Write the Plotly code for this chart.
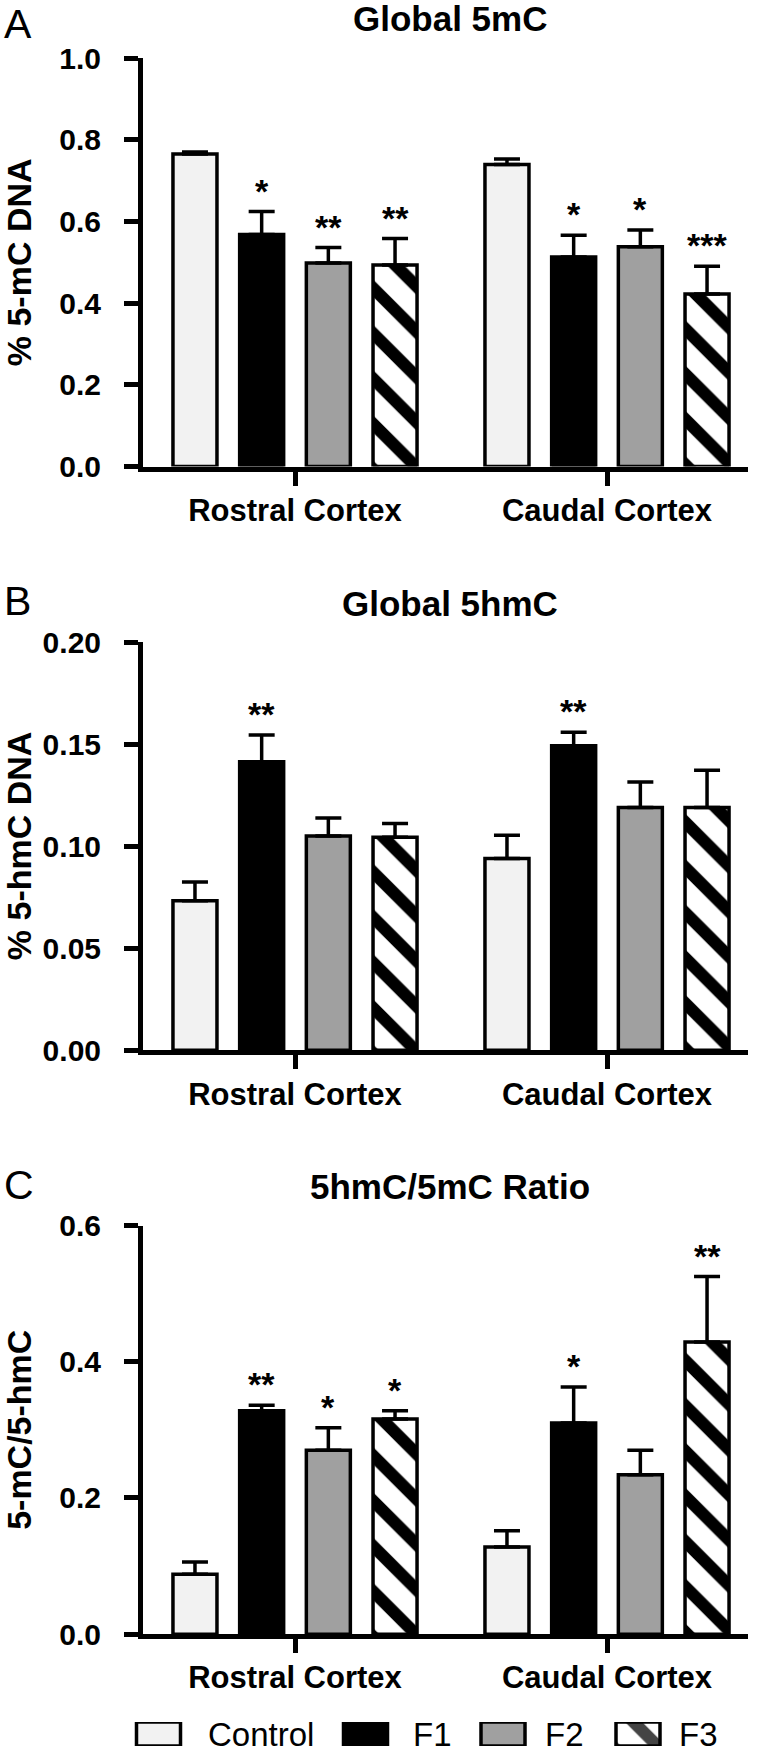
import plotly.graph_objects as go

W, H = 764, 1752

# ---------------- data ----------------
regions = ["Rostral Cortex", "Caudal Cortex"]
groups = ["Control", "F1", "F2", "F3"]

# Panel A: Global 5mC (% 5-mC DNA)
mc_control = [0.765, 0.739]
mc_f1 = [0.568, 0.513]
mc_f2 = [0.498, 0.538]
mc_f3 = [0.493, 0.422]
mc_control_err = [0.005, 0.014]
mc_f1_err = [0.056, 0.053]
mc_f2_err = [0.038, 0.041]
mc_f3_err = [0.065, 0.068]
mc_control_sig = ["", ""]
mc_f1_sig = ["*", "*"]
mc_f2_sig = ["**", "*"]
mc_f3_sig = ["**", "***"]

# Panel B: Global 5hmC (% 5-hmC DNA)
hmc_control = [0.0732, 0.0939]
hmc_f1 = [0.1414, 0.1492]
hmc_f2 = [0.1050, 0.1189]
hmc_f3 = [0.1043, 0.1189]
hmc_control_err = [0.0092, 0.0115]
hmc_f1_err = [0.0130, 0.0066]
hmc_f2_err = [0.0088, 0.0125]
hmc_f3_err = [0.0068, 0.0183]
hmc_control_sig = ["", ""]
hmc_f1_sig = ["**", "**"]
hmc_f2_sig = ["", ""]
hmc_f3_sig = ["", ""]

# Panel C: 5hmC/5mC ratio
ratio_control = [0.088, 0.128]
ratio_f1 = [0.328, 0.310]
ratio_f2 = [0.270, 0.234]
ratio_f3 = [0.316, 0.429]
ratio_control_err = [0.018, 0.024]
ratio_f1_err = [0.008, 0.053]
ratio_f2_err = [0.033, 0.036]
ratio_f3_err = [0.012, 0.096]
ratio_control_sig = ["", ""]
ratio_f1_sig = ["**", "*"]
ratio_f2_sig = ["*", ""]
ratio_f3_sig = ["*", "**"]

a_ticks = [0.0, 0.2, 0.4, 0.6, 0.8, 1.0]
b_ticks = [0.00, 0.05, 0.10, 0.15, 0.20]
c_ticks = [0.0, 0.2, 0.4, 0.6]

# ---------------- styles ----------------
FONT = "Liberation Sans, Arial, Helvetica, sans-serif"
styles = {
    "Control": dict(color="#f2f2f2", shape=""),
    "F1": dict(color="#000000", shape=""),
    "F2": dict(color="#a0a0a0", shape=""),
    "F3": dict(color="#ffffff", shape="\\"),
}
OUTLINE = 3.5
BARGAP = 0.145
BARGROUPGAP = 0.34
PATTERN = dict(fgcolor="black", fgopacity=1, fillmode="overlay", size=32, solidity=0.38)


def px_x(px):
    return px / W


def px_y(py):
    return 1 - py / H


panels = [
    dict(letter="A", title="Global 5mC", ytitle="% 5-mC DNA", top=58, bottom=466.5,
         ticks=a_ticks, fmt=".1f",
         vals=[mc_control, mc_f1, mc_f2, mc_f3],
         errs=[mc_control_err, mc_f1_err, mc_f2_err, mc_f3_err],
         sigs=[mc_control_sig, mc_f1_sig, mc_f2_sig, mc_f3_sig]),
    dict(letter="B", title="Global 5hmC", ytitle="% 5-hmC DNA", top=642, bottom=1050.3,
         ticks=b_ticks, fmt=".2f",
         vals=[hmc_control, hmc_f1, hmc_f2, hmc_f3],
         errs=[hmc_control_err, hmc_f1_err, hmc_f2_err, hmc_f3_err],
         sigs=[hmc_control_sig, hmc_f1_sig, hmc_f2_sig, hmc_f3_sig]),
    dict(letter="C", title="5hmC/5mC Ratio", ytitle="5-mC/5-hmC", top=1225.5, bottom=1634.2,
         ticks=c_ticks, fmt=".1f",
         vals=[ratio_control, ratio_f1, ratio_f2, ratio_f3],
         errs=[ratio_control_err, ratio_f1_err, ratio_f2_err, ratio_f3_err],
         sigs=[ratio_control_sig, ratio_f1_sig, ratio_f2_sig, ratio_f3_sig]),
]

PLOT_L, PLOT_R = 143, 748
CAT0_PX, CAT1_PX = 295, 607
unit = CAT1_PX - CAT0_PX
x_range = [-(CAT0_PX - PLOT_L) / unit, (PLOT_R - CAT0_PX) / unit]

fig = go.Figure()
annotations = []
layout_axes = {}
slot = (1 - BARGAP) / len(groups)

for pi, p in enumerate(panels):
    n = pi + 1
    xa = "x" if n == 1 else f"x{n}"
    ya = "y" if n == 1 else f"y{n}"
    for si, g in enumerate(groups):
        st = styles[g]
        fig.add_trace(go.Bar(
            x=regions, y=p["vals"][si], name=g, showlegend=False,
            xaxis=xa, yaxis=ya,
            marker=dict(color=st["color"], line=dict(color="black", width=OUTLINE),
                        pattern=dict(shape=st["shape"], **PATTERN)),
            error_y=dict(type="data", array=p["errs"][si], arrayminus=[0] * len(regions),
                         symmetric=False, color="black", thickness=3.5, width=13),
        ))
        for ri in range(len(regions)):
            s = p["sigs"][si][ri]
            if s:
                annotations.append(dict(
                    x=ri + (si - (len(groups) - 1) / 2) * slot,
                    y=p["vals"][si][ri] + p["errs"][si][ri],
                    xref=xa, yref=ya, text=s, showarrow=False,
                    xanchor="center", yanchor="bottom", yshift=0,
                    font=dict(family=FONT, size=34, color="black", weight="bold")))
    xkey = "xaxis" if n == 1 else f"xaxis{n}"
    ykey = "yaxis" if n == 1 else f"yaxis{n}"
    layout_axes[xkey] = dict(
        domain=[px_x(PLOT_L), px_x(PLOT_R)], anchor=ya, type="category",
        range=x_range, showline=True, linewidth=5, linecolor="black",
        ticks="outside", ticklen=14, tickwidth=5, tickcolor="black",
        showgrid=False, zeroline=False, automargin=False,
        ticklabelstandoff=-2,
        tickfont=dict(family=FONT, size=31, color="black", weight="bold"))
    layout_axes[ykey] = dict(
        domain=[px_y(p["bottom"]), px_y(p["top"])], anchor=xa,
        range=[p["ticks"][0], p["ticks"][-1]], tickvals=p["ticks"], tickformat=p["fmt"],
        showline=True, linewidth=5, linecolor="black",
        ticks="outside", ticklen=14, tickwidth=5, tickcolor="black",
        showgrid=False, zeroline=False, automargin=False,
        ticklabelstandoff=17,
        tickfont=dict(family=FONT, size=30, color="black", weight="bold"))
    # panel letter (kept inside the canvas)
    letter_center = max(p["top"] - 41, 24)
    annotations.append(dict(x=px_x(2), y=px_y(letter_center), xref="paper", yref="paper",
                            text=p["letter"], showarrow=False, xanchor="left", yanchor="middle",
                            font=dict(family=FONT, size=41, color="black")))
    # title
    annotations.append(dict(x=px_x(450), y=px_y(p["top"] - 39), xref="paper", yref="paper",
                            text=p["title"], showarrow=False, xanchor="center", yanchor="middle",
                            font=dict(family=FONT, size=35, color="black", weight="bold")))
    # y title
    annotations.append(dict(x=px_x(19), y=px_y((p["top"] + p["bottom"]) / 2), xref="paper",
                            yref="paper", text=p["ytitle"], showarrow=False, textangle=-90,
                            xanchor="center", yanchor="middle",
                            font=dict(family=FONT, size=34, color="black", weight="bold")))

# ---------------- legend (drawn as a row of swatch bars) ----------------
legend_box_centers = [158.5, 365.5, 503, 638]
legend_text_left = [206, 411, 543, 677]
LEG_TOP, LEG_BOT = 1722, 1746
fig.add_trace(go.Bar(
    x=legend_box_centers, y=[1] * len(groups), width=[44] * len(groups),
    xaxis="x4", yaxis="y4", showlegend=False, hoverinfo="skip",
    marker=dict(color=[styles[g]["color"] for g in groups],
                line=dict(color="black", width=OUTLINE),
                pattern=dict(shape=[styles[g]["shape"] for g in groups], **PATTERN)),
))
layout_axes["xaxis4"] = dict(domain=[0, 1], range=[0, W], anchor="y4", visible=False,
                             fixedrange=True)
layout_axes["yaxis4"] = dict(domain=[px_y(LEG_BOT), px_y(LEG_TOP)], range=[0, 1],
                             anchor="x4", visible=False, fixedrange=True)
for g, tx in zip(groups, legend_text_left):
    annotations.append(dict(x=px_x(tx), y=px_y((LEG_TOP + LEG_BOT) / 2), xref="paper",
                            yref="paper", text=g, showarrow=False, xanchor="left",
                            yanchor="middle",
                            font=dict(family=FONT, size=33, color="black")))

fig.update_layout(
    width=W, height=H, autosize=False,
    margin=dict(l=0, r=0, t=0, b=0),
    paper_bgcolor="white", plot_bgcolor="white",
    barmode="group", bargap=BARGAP, bargroupgap=BARGROUPGAP,
    annotations=annotations,
    **layout_axes,
)

fig.write_html("out.html", config={"displayModeBar": False},
               post_script="document.body.style.margin='0px';document.body.style.overflow='hidden';")
